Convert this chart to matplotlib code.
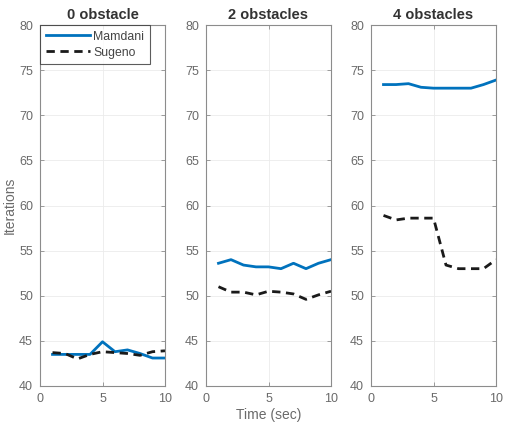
import matplotlib
matplotlib.use("Agg")
import matplotlib.pyplot as plt

plt.rcParams['font.family'] = ['Liberation Sans', 'DejaVu Sans']

time = [1, 2, 3, 4, 5, 6, 7, 8, 9, 10]
titles = ["0 obstacle", "2 obstacles", "4 obstacles"]
mamdani = [
    [43.5, 43.5, 43.5, 43.5, 44.9, 43.8, 44.0, 43.6, 43.1, 43.1],
    [53.6, 54.0, 53.4, 53.2, 53.2, 53.0, 53.6, 53.0, 53.6, 54.0],
    [73.4, 73.4, 73.5, 73.1, 73.0, 73.0, 73.0, 73.0, 73.4, 73.9],
]
sugeno = [
    [43.7, 43.6, 43.0, 43.5, 43.8, 43.7, 43.6, 43.4, 43.8, 43.9],
    [51.0, 50.4, 50.4, 50.1, 50.5, 50.4, 50.2, 49.6, 50.1, 50.5],
    [58.9, 58.4, 58.6, 58.6, 58.6, 53.4, 53.0, 53.0, 53.0, 54.0],
]
xticks = [0, 5, 10]
yticks = [40, 45, 50, 55, 60, 65, 70, 75, 80]

fig = plt.figure(figsize=(5.08, 4.25), dpi=100)
lefts = [40 / 508, 206 / 508, 371 / 508]
w = 125 / 508
b = 1 - 386 / 425
h = (386 - 25) / 425
for i in range(3):
    ax = fig.add_axes([lefts[i], b, w, h])
    ax.plot(time, mamdani[i], color='#0072BD', lw=2, label='Mamdani')
    ax.plot(time, sugeno[i], color='#1a1a1a', lw=2, ls=(0, (3, 2)), label='Sugeno')
    ax.set_xlim(0, 10)
    ax.set_ylim(40, 80)
    ax.set_xticks(xticks)
    ax.set_yticks(yticks)
    ax.grid(True, color='#ebebeb', lw=0.6)
    ax.set_axisbelow(True)
    for s in ax.spines.values():
        s.set_color('#8c8c8c')
        s.set_linewidth(0.8)
    ax.tick_params(direction='in', length=3, width=0.6, color='#8c8c8c',
                   labelsize=9, labelcolor='#6a6a6a', top=True, right=True, pad=5)
    ax.set_title(titles[i], fontsize=10.5, fontweight='bold', color='#333333', pad=4)
    if i == 0:
        ax.set_ylabel('Iterations', fontsize=10, color='#6a6a6a', labelpad=2)
        leg = ax.legend(loc='upper left', fontsize=8.8, frameon=True, fancybox=False,
                        borderaxespad=0.0, handlelength=3.6, handletextpad=0.3,
                        labelspacing=0.35, borderpad=0.45)
        leg.get_frame().set_edgecolor('#333333')
        leg.get_frame().set_linewidth(0.8)
        for t in leg.get_texts():
            t.set_color('#444444')
    if i == 1:
        ax.set_xlabel('Time (sec)', fontsize=10, color='#6a6a6a', labelpad=2)

fig.savefig('out.png', dpi=100)
